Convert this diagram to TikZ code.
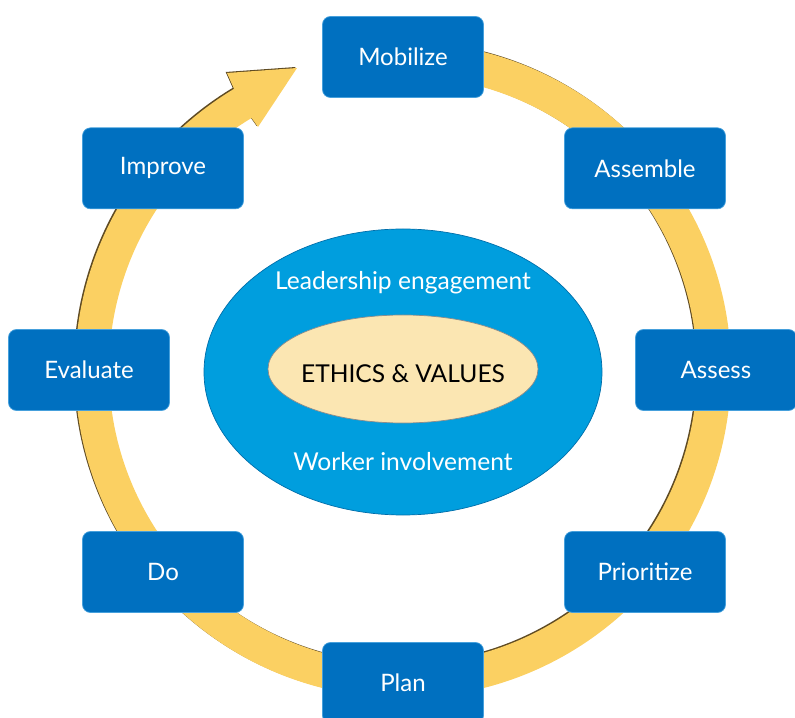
\documentclass[tikz,border=0pt]{standalone}
\usepackage{fontspec}
\setmainfont{Lato}
\usetikzlibrary{shapes.geometric}
\definecolor{ringyellow}{RGB}{251,208,98}
\definecolor{ringshade}{RGB}{95,75,35}
\definecolor{boxblue}{RGB}{0,112,192}
\definecolor{boxedge}{RGB}{70,160,220}
\definecolor{outerblue}{RGB}{0,158,222}
\definecolor{outeredge}{RGB}{0,110,170}
\definecolor{cream}{RGB}{251,230,178}
\tikzstyle{stage}=[rectangle, rounded corners=0.24cm, fill=boxblue, draw=boxedge, line width=0.6pt, minimum width=4.83cm, minimum height=2.43cm, text=white, font=\fontsize{20.5}{24}\selectfont, anchor=center]
\tikzstyle{annot}=[align=center, text=white, font=\fontsize{21}{25}\selectfont]
\newcommand{\ringpath}[0]
{
  (85:9.84) arc[start angle=85, end angle=-239, radius=9.84]
  -- (-5.28,8.91) -- (-3.18,9.06) -- (-4.35,7.29)
  -- (-239:8.82) arc[start angle=-239, end angle=85, radius=8.82] -- cycle
}

\begin{document}
\begin{tikzpicture}
	\useasboundingbox (-12.09,-10.41) rectangle (11.76,11.1);

	% cycle arrow with a thin dark edge
	\fill[ringshade, xshift=-0.04cm, yshift=0.03cm] \ringpath;
	\fill[ringyellow] \ringpath;

	% centre
	\node[ellipse, fill=outerblue, draw=outeredge, line width=0.6pt, minimum width=11.94cm, minimum height=8.58cm](core) at (0,-0.06){};
	\node[ellipse, fill=cream, draw=black!45, line width=0.6pt, minimum width=8.1cm, minimum height=3.24cm](ethics) at (0,0.03){};
	\node[font=\fontsize{21}{25}\selectfont] (values) at (0,-0.12) {ETHICS \& VALUES};
	\node[annot] (lead) at (0,2.61) {Leadership engagement};
	\node[annot] (worker) at (0,-2.76) {Worker involvement};

	% stages
	\node[stage](mobilize) at (0,9.39){Mobilize};
	\node[stage](assemble) at (7.26,6.05){Assemble};
	\node[stage](assess) at (9.39,0){Assess};
	\node[stage](prioritize) at (7.26,-6.06){Prioritize};
	\node[stage](plan) at (0,-9.39){Plan};
	\node[stage](do) at (-7.2,-6.06){Do};
	\node[stage](evaluate) at (-9.42,0){Evaluate};
	\node[stage](improve) at (-7.2,6.05){Improve};
\end{tikzpicture}
\end{document}
